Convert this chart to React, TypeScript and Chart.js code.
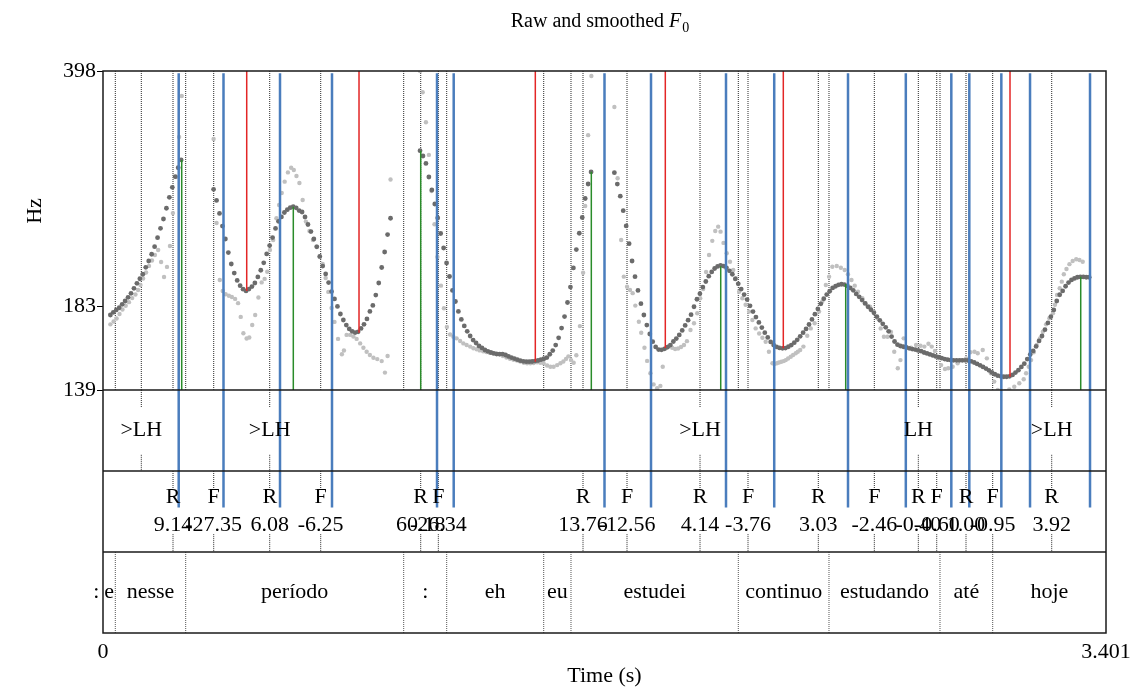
import React, { useEffect, useRef } from "react";
import { Chart, registerables } from "chart.js";

Chart.register(...registerables);

const SERIF = "'Liberation Serif', 'Times New Roman', Times, serif";

// ---- axes ----
const TIME_MIN = 0;
const TIME_MAX = 3.401;
const TIME_TICKS = [0, 3.401];
const F0_MIN = 139;
const F0_MAX = 398;
const F0_TICKS = [139, 183, 398];
const FRAME_STEP = 0.01; // s between pitch frames

// ---- smoothed F0 (Hz), one value per frame, segments start at these times ----
const smoothStarts = [0.025, 0.375, 1.075, 1.734];
const smoothA = [178.0, 179.6, 181.0, 182.3, 184.4, 186.4, 188.7, 191.2, 194.4, 197.6, 200.6, 203.6, 208.3, 212.7, 217.5, 223.0, 229.7, 236.9, 244.3, 253.1, 262.4, 271.2, 280.9, 289.3, 296.8];
const smoothB = [269.4, 259.7, 248.8, 238.7, 228.7, 218.7, 210.6, 204.4, 199.5, 196.1, 193.8, 192.7, 193.9, 195.5, 197.8, 201.8, 206.3, 211.4, 217.7, 223.8, 229.8, 236.8, 242.4, 246.0, 249.6, 251.9, 253.6, 254.4, 253.5, 251.2, 250.0, 245.9, 239.9, 234.4, 228.7, 222.9, 215.9, 209.2, 203.8, 198.1, 192.3, 187.7, 183.1, 178.6, 175.1, 172.2, 170.0, 168.7, 168.0, 168.4, 170.3, 172.6, 175.7, 180.1, 183.7, 190.1, 197.8, 208.2, 219.1, 232.1, 244.9];
const smoothC = [306.0, 300.7, 293.4, 280.6, 268.8, 256.7, 245.1, 232.9, 222.0, 211.3, 202.1, 193.0, 186.1, 180.1, 175.4, 171.7, 168.7, 166.1, 163.9, 162.3, 160.7, 159.7, 158.6, 157.9, 157.3, 156.8, 156.5, 156.5, 156.5, 156.0, 155.3, 154.7, 154.2, 153.6, 153.1, 152.8, 152.6, 152.6, 152.7, 152.9, 153.2, 153.6, 154.1, 154.7, 156.4, 158.3, 161.2, 165.1, 170.5, 177.1, 185.5, 195.2, 207.9, 220.9, 233.1, 245.5, 261.4, 274.2, 285.3];
const smoothD = [284.6, 274.1, 263.4, 251.1, 238.8, 225.2, 212.7, 202.0, 193.0, 184.8,
  178.0, 172.2, 167.2, 163.0, 160.2, 158.8, 158.7, 159.2, 160.1, 161.2,
  163.1, 164.7, 166.7, 169.2, 172.0, 175.0, 178.2, 182.9, 187.5, 191.0,
  195.2, 198.8, 202.3, 205.2, 207.5, 208.9, 209.6, 209.2, 208.0, 205.9,
  203.6, 200.5, 197.3, 193.9, 190.4, 187.3, 183.5, 180.0, 176.8, 173.7,
  170.8, 167.9, 165.3, 162.9, 161.2, 160.2, 159.7, 159.5, 159.6, 160.3,
  161.2, 162.5, 164.0, 165.9, 167.9, 170.0, 172.5, 175.4, 178.5, 181.6,
  184.7, 187.8, 190.4, 192.5, 194.6, 195.7, 196.6, 197.0, 196.8, 195.9,
  194.6, 193.1, 190.8, 189.0, 187.0, 184.9, 182.9, 181.1, 179.3, 177.1,
  174.9, 172.9, 170.9, 168.7, 165.8, 163.1, 161.4, 160.7, 160.3, 159.9,
  159.5, 159.1, 158.8, 158.4, 158.0, 157.3, 156.8, 156.3, 155.8, 155.3,
  154.9, 154.4, 153.9, 153.6, 153.4, 153.3, 153.3, 153.3, 153.3, 153.3,
  153.2, 152.8, 152.2, 151.5, 150.8, 150.0, 149.2, 148.3, 147.3, 146.4,
  145.7, 145.4, 145.2, 145.2, 145.4, 146.1, 147.2, 148.4, 150.0, 151.6,
  153.9, 156.2, 158.1, 160.5, 163.4, 166.1, 169.6, 173.4, 177.0, 181.0,
  186.4, 190.3, 192.7, 195.7, 198.1, 199.8, 200.8, 201.6, 201.8, 201.8,
  201.6, 201.6];
const smoothSegments = [smoothA, smoothB, smoothC, smoothD];

// ---- raw F0: [time s, Hz] ----
const rawF0: [number, number][] = [
  [0.025, 172.6], [0.036, 174.2], [0.046, 176.0], [0.056, 178.6], [0.066, 181.3], [0.077, 183.5], [0.088, 185.7], [0.099, 188.2], [0.110, 190.5], [0.119, 193.3],
  [0.127, 196.5], [0.136, 200.8], [0.146, 204.8], [0.156, 209.3], [0.166, 213.0], [0.176, 216.9], [0.187, 220.6], [0.197, 212.0], [0.207, 201.8], [0.217, 208.6],
  [0.227, 223.5], [0.237, 249.1], [0.248, 280.6], [0.258, 320.1], [0.267, 366.5],
  [0.375, 318.1], [0.385, 241.1], [0.396, 199.8], [0.406, 192.7], [0.416, 190.6], [0.427, 189.7], [0.437, 188.9], [0.448, 187.7], [0.458, 185.1], [0.467, 176.9],
  [0.476, 167.6], [0.487, 164.7], [0.496, 165.3], [0.506, 172.2], [0.516, 178.0], [0.527, 188.6], [0.538, 198.2], [0.548, 200.5], [0.557, 205.3], [0.566, 220.6],
  [0.577, 228.0], [0.588, 244.9], [0.597, 255.8], [0.606, 266.2], [0.616, 276.3], [0.627, 284.9], [0.638, 289.3], [0.647, 287.1], [0.656, 281.5], [0.666, 275.1],
  [0.677, 260.1], [0.688, 242.2], [0.700, 234.8], [0.712, 228.0], [0.724, 223.2], [0.735, 215.5], [0.745, 210.6], [0.755, 201.1], [0.764, 192.1], [0.775, 182.2],
  [0.785, 174.0], [0.797, 164.5], [0.810, 156.4], [0.817, 158.3], [0.826, 166.7], [0.838, 166.7], [0.849, 165.8], [0.860, 164.5], [0.872, 162.1], [0.883, 159.8],
  [0.894, 157.7], [0.905, 156.0], [0.917, 154.6], [0.930, 153.9], [0.945, 152.9], [0.956, 147.2], [0.965, 155.5], [0.975, 278.3],
  [1.075, 398.0], [1.084, 371.0], [1.095, 336.1], [1.105, 301.8], [1.114, 267.9], [1.124, 240.1], [1.134, 215.6], [1.146, 196.1], [1.156, 182.0], [1.166, 171.1],
  [1.177, 166.9], [1.188, 165.7], [1.199, 164.8], [1.211, 163.4], [1.222, 162.1], [1.233, 161.2], [1.245, 160.4], [1.256, 159.5], [1.267, 159.0], [1.277, 158.4],
  [1.289, 157.9], [1.300, 157.5], [1.311, 157.2], [1.322, 157.0], [1.334, 156.8], [1.345, 156.3], [1.356, 155.5], [1.368, 154.7], [1.380, 154.1], [1.392, 153.6],
  [1.404, 153.2], [1.415, 152.7], [1.427, 152.1], [1.438, 151.8], [1.449, 151.8], [1.460, 151.9], [1.472, 152.3], [1.483, 152.1], [1.494, 151.8], [1.506, 150.7],
  [1.517, 150.1], [1.528, 150.1], [1.540, 150.9], [1.551, 151.8], [1.561, 152.7], [1.570, 154.0], [1.578, 155.3], [1.587, 153.4], [1.596, 152.1], [1.605, 155.9],
  [1.617, 171.6], [1.628, 204.6], [1.635, 255.0], [1.645, 322.1], [1.656, 391.4],
  [1.734, 353.5], [1.745, 279.4], [1.757, 228.0], [1.766, 202.0], [1.777, 195.4], [1.787, 193.3], [1.796, 191.3], [1.805, 183.6], [1.817, 174.1], [1.825, 167.9],
  [1.836, 159.8], [1.845, 153.0], [1.856, 146.9], [1.867, 141.6], [1.879, 139.8], [1.890, 140.9], [1.898, 150.1], [1.909, 159.6], [1.919, 160.7], [1.930, 159.8],
  [1.940, 159.1], [1.950, 159.4], [1.960, 160.2], [1.970, 161.2], [1.980, 163.3], [1.992, 169.4], [2.004, 173.2], [2.015, 179.0], [2.025, 188.1], [2.035, 193.9],
  [2.045, 205.1], [2.055, 217.0], [2.066, 227.3], [2.076, 234.8], [2.086, 238.2], [2.094, 234.3], [2.104, 225.8], [2.115, 218.2], [2.126, 212.2], [2.137, 206.5],
  [2.146, 200.9], [2.157, 192.2], [2.168, 188.1], [2.179, 184.1], [2.191, 180.0], [2.202, 175.1], [2.213, 170.3], [2.225, 167.5], [2.236, 165.1], [2.247, 163.0],
  [2.258, 157.7], [2.270, 151.8], [2.277, 151.5], [2.285, 151.8], [2.292, 152.2], [2.300, 152.6], [2.308, 152.9], [2.315, 153.4], [2.323, 154.2], [2.332, 155.1],
  [2.340, 156.0], [2.349, 156.9], [2.356, 157.7], [2.364, 158.6], [2.375, 160.4], [2.388, 166.2], [2.400, 170.3], [2.413, 173.2], [2.428, 180.0], [2.439, 186.1],
  [2.451, 196.5], [2.462, 202.0], [2.473, 208.7], [2.488, 209.2], [2.502, 208.0], [2.515, 206.5], [2.526, 203.6], [2.538, 199.8], [2.549, 196.1], [2.560, 192.2],
  [2.575, 188.1], [2.586, 185.0], [2.601, 183.0], [2.614, 180.0], [2.626, 176.1], [2.637, 170.3], [2.648, 165.7], [2.660, 165.7], [2.672, 168.3], [2.683, 157.7],
  [2.695, 149.3], [2.704, 153.4], [2.715, 164.8], [2.726, 159.8], [2.740, 159.8], [2.757, 161.2], [2.772, 160.8], [2.785, 160.4], [2.799, 161.9], [2.810, 160.4],
  [2.821, 158.1], [2.833, 154.3], [2.842, 150.9], [2.855, 149.0], [2.866, 149.3], [2.881, 150.1], [2.898, 151.8], [2.912, 153.4], [2.927, 154.3], [2.941, 157.4],
  [2.955, 157.7], [2.966, 156.9], [2.983, 158.6], [2.997, 154.3], [3.011, 146.9], [3.022, 142.9], [3.034, 139.0], [3.045, 137.5], [3.060, 138.5], [3.073, 139.3],
  [3.090, 140.5], [3.107, 142.1], [3.122, 144.0], [3.130, 146.9], [3.139, 150.1], [3.147, 153.4], [3.156, 157.4], [3.166, 161.2], [3.177, 164.8], [3.187, 168.4],
  [3.198, 172.6], [3.209, 176.1], [3.221, 179.0], [3.228, 184.1], [3.235, 190.2], [3.244, 194.4], [3.251, 198.7], [3.258, 203.6], [3.267, 207.2], [3.277, 210.5],
  [3.288, 212.7], [3.300, 213.9], [3.311, 213.4], [3.322, 212.2],
];

// ---- text tiers ----
const wordLabels = [":", "e", "nesse", "período", ":", "eh", "eu", "estudei", "continuo", "estudando", "até", "hoje"];
const wordBounds = [-0.045, 0, 0.0417, 0.2804, 1.0196, 1.1654, 1.4944, 1.5869, 2.1542, 2.4617, 2.8381, 3.0168, 3.401];

const lhTimes = [0.1299, 0.5653, 2.0244, 2.7646, 3.2169];
const lhLabels = [">LH", ">LH", ">LH", "LH", ">LH"];

const rfTimes = [0.2374, 0.3754, 0.5653, 0.7382, 1.0773, 1.1370, 1.6276, 1.7768, 2.0244, 2.1871, 2.4255, 2.6154, 2.7646, 2.8270, 2.9263, 3.0168, 3.2169];
const rfTypes = ["R", "F", "R", "F", "R", "F", "R", "F", "R", "F", "R", "F", "R", "F", "R", "F", "R"];
const rfValues = ["9.14", "-27.35", "6.08", "-6.25", "60.18", "-26.34", "13.76", "-12.56", "4.14", "-3.76", "3.03", "-2.46", "-0.40", "-0.60", "1.00", "-0.95", "3.92"];

// ---- marker lines ----
const blueTimes = [0.2567, 0.4086, 0.6002, 0.7765, 1.1326, 1.1892, 1.7005, 1.8582, 2.1125, 2.2760, 2.5262, 2.7222, 2.8765, 2.9375, 3.0461, 3.1434, 3.3468];
const redTimes = [0.4873, 0.8681, 1.4659, 1.9067, 2.3068, 3.0755];
const redHz = [192.7, 167.9, 152.6, 159.6, 159.5, 145.2];
const greenTimes = [0.2669, 0.6453, 1.0773, 1.6558, 2.0946, 2.5184, 3.3153];
const greenHz = [296.8, 254.4, 306.0, 285.5, 209.0, 197.2, 202.0];

type Pt = { x: number; y: number | null };

function vsegs(times: number[], from: number | number[], to: number | number[]): Pt[] {
  const out: Pt[] = [];
  times.forEach((t, i) => {
    out.push({ x: t, y: Array.isArray(from) ? from[i] : from });
    out.push({ x: t, y: Array.isArray(to) ? to[i] : to });
    out.push({ x: t, y: null });
  });
  return out;
}

function lineSet(data: Pt[], color: string, width: number, yAxisID: string, order: number, dash: number[] = []) {
  return {
    type: "line",
    data,
    borderColor: color,
    backgroundColor: color,
    borderWidth: width,
    borderDash: dash,
    borderCapStyle: "butt",
    pointRadius: 0,
    showLine: true,
    spanGaps: false,
    fill: false,
    tension: 0,
    yAxisID,
    order,
  };
}

const overlayPlugin = {
  id: "overlay",
  afterDraw(chart: any) {
    const { ctx, chartArea: ca, scales } = chart;
    const xs = scales.x;
    const yt = scales.yt;
    ctx.save();
    // frame and tier separators
    ctx.strokeStyle = "#1a1a1a";
    ctx.lineWidth = 1.5;
    ctx.strokeRect(ca.left, ca.top, ca.right - ca.left, ca.bottom - ca.top);
    for (const v of [3, 2, 1]) {
      const py = yt.getPixelForValue(v);
      ctx.beginPath();
      ctx.moveTo(ca.left, py);
      ctx.lineTo(ca.right, py);
      ctx.stroke();
    }
    // tier texts
    ctx.fillStyle = "#000";
    ctx.font = `22px ${SERIF}`;
    ctx.textAlign = "center";
    ctx.textBaseline = "middle";
    const yLH = yt.getPixelForValue(2.5);
    lhTimes.forEach((t, i) => ctx.fillText(lhLabels[i], xs.getPixelForValue(t), yLH));
    const yRF = yt.getPixelForValue(1.5);
    rfTimes.forEach((t, i) => {
      const px = xs.getPixelForValue(t);
      ctx.fillText(rfTypes[i], px, yRF - 14);
      ctx.fillText(rfValues[i], px, yRF + 14);
    });
    const yW = yt.getPixelForValue(0.5);
    wordLabels.forEach((w, i) => {
      ctx.fillText(w, xs.getPixelForValue((wordBounds[i] + wordBounds[i + 1]) / 2), yW);
    });
    // y-axis title
    ctx.save();
    ctx.translate(35, 211);
    ctx.rotate(-Math.PI / 2);
    ctx.fillText("Hz", 0, 0);
    ctx.restore();
    // chart title: Raw and smoothed F0 (italic F, subscript 0)
    ctx.textAlign = "left";
    ctx.textBaseline = "alphabetic";
    const p1 = "Raw and smoothed ";
    ctx.font = `20px ${SERIF}`;
    const w1 = ctx.measureText(p1).width;
    ctx.font = `italic 20px ${SERIF}`;
    const w2 = ctx.measureText("F").width;
    ctx.font = `14px ${SERIF}`;
    const w3 = ctx.measureText("0").width;
    let sx = (ca.left + ca.right) / 2 - 5 - (w1 + w2 + w3) / 2;
    const by = 27;
    ctx.font = `20px ${SERIF}`;
    ctx.fillText(p1, sx, by);
    sx += w1;
    ctx.font = `italic 20px ${SERIF}`;
    ctx.fillText("F", sx, by);
    sx += w2 + 1;
    ctx.font = `14px ${SERIF}`;
    ctx.fillText("0", sx, by + 5);
    ctx.restore();
  },
};

export default function App() {
  const canvasRef = useRef<HTMLCanvasElement | null>(null);

  useEffect(() => {
    const canvas = canvasRef.current;
    if (!canvas) return;

    const smoothPts = smoothSegments.flatMap((seg, k) =>
      seg.map((hz, i) => ({ x: smoothStarts[k] + i * FRAME_STEP, y: hz }))
    );
    const rawPts = rawF0.map(([t, hz]) => ({ x: t, y: hz }));

    const innerWordBounds = wordBounds.filter((t) => t > TIME_MIN && t < TIME_MAX);
    const f0Dotted = Array.from(new Set([...innerWordBounds, ...lhTimes, ...rfTimes])).sort((a, b) => a - b);

    const tierMarks: Pt[] = [
      ...vsegs(lhTimes, 3, 2.78),
      ...vsegs(lhTimes, 2.2, 2),
      ...vsegs(rfTimes, 2, 1.78),
      ...vsegs(rfTimes, 1.22, 1),
    ];

    const datasets: any[] = [
      lineSet(vsegs(blueTimes, 395, F0_MIN), "#4a7dbd", 2.5, "y", 0),
      lineSet(vsegs(blueTimes, 3, 1.55), "#4a7dbd", 2.5, "yt", 0),
      lineSet(vsegs(redTimes, F0_MAX, redHz), "#e32626", 1.5, "y", 1),
      lineSet(vsegs(greenTimes, greenHz, F0_MIN), "#2a8c2a", 1.5, "y", 1),
      {
        type: "scatter",
        data: smoothPts,
        yAxisID: "y",
        pointRadius: 2.4,
        pointBorderWidth: 0,
        pointBackgroundColor: "#6b6b6b",
        showLine: false,
        order: 2,
      },
      {
        type: "scatter",
        data: rawPts,
        yAxisID: "y",
        pointRadius: 2.2,
        pointBorderWidth: 0,
        pointBackgroundColor: "#c0c0c0",
        showLine: false,
        order: 3,
      },
      lineSet(vsegs(f0Dotted, F0_MAX, F0_MIN), "#2a2a2a", 1, "y", 4, [1, 1]),
      lineSet(tierMarks, "#2a2a2a", 1, "yt", 4, [1, 1]),
      lineSet(vsegs(innerWordBounds, 1, 0), "#555555", 1, "yt", 4, [1, 1]),
    ];

    const chart = new Chart(canvas, {
      type: "scatter",
      data: { datasets },
      options: {
        responsive: false,
        animation: false,
        events: [],
        layout: { padding: { top: 71, right: 27, bottom: 0, left: 0 } },
        plugins: {
          legend: { display: false },
          tooltip: { enabled: false },
          title: { display: false },
        },
        scales: {
          x: {
            type: "linear",
            position: "bottom",
            min: TIME_MIN,
            max: TIME_MAX,
            afterBuildTicks: (s: any) => {
              s.ticks = TIME_TICKS.map((v) => ({ value: v }));
            },
            afterFit: (s: any) => {
              s.height = 54;
              s.paddingLeft = 0;
              s.paddingRight = 0;
            },
            grid: { display: false, drawTicks: false },
            border: { display: false },
            ticks: {
              color: "#000",
              font: { family: SERIF, size: 22 },
              padding: 6,
              maxRotation: 0,
              autoSkip: false,
              callback: (v: any) => String(v),
            },
            title: {
              display: true,
              text: "Time (s)",
              color: "#000",
              font: { family: SERIF, size: 22, lineHeight: 1 },
              padding: { top: 0, bottom: 0 },
            },
          },
          yt: {
            type: "linear",
            position: "left",
            stack: "main",
            stackWeight: 243,
            min: 0,
            max: 3,
            afterFit: (s: any) => {
              s.width = 103;
            },
            ticks: { display: false },
            grid: { display: false, drawTicks: false },
            border: { display: false },
          },
          y: {
            type: "logarithmic",
            position: "left",
            stack: "main",
            stackWeight: 319,
            min: F0_MIN,
            max: F0_MAX,
            afterBuildTicks: (s: any) => {
              s.ticks = F0_TICKS.map((v) => ({ value: v }));
            },
            afterFit: (s: any) => {
              s.width = 103;
            },
            grid: {
              display: true,
              drawOnChartArea: false,
              drawTicks: true,
              tickLength: 6,
              color: "#000",
              lineWidth: 1,
            },
            border: { display: false },
            ticks: {
              color: "#000",
              font: { family: SERIF, size: 22 },
              padding: 1,
              autoSkip: false,
              callback: (v: any) => String(v),
            },
          },
        },
      } as any,
      plugins: [overlayPlugin],
    } as any);

    return () => chart.destroy();
  }, []);

  return (
    <div style={{ position: "fixed", left: 0, top: 0, width: 1133, height: 687, background: "#fff" }}>
      <canvas ref={canvasRef} width={1133} height={687} style={{ display: "block" }} />
    </div>
  );
}
